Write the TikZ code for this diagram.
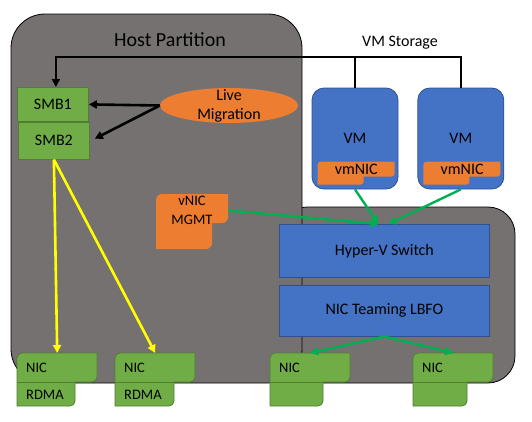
\documentclass[tikz,border=0pt]{standalone}
\usepackage{fontspec}
\setmainfont{Carlito}
\usepackage{xcolor}
\usepackage{tikz}
\usetikzlibrary{arrows.meta,shapes.geometric,positioning,calc}
\definecolor{cinza}{HTML}{767171}
\definecolor{verde}{HTML}{70AD47}
\definecolor{verdeescuro}{HTML}{507E32}
\definecolor{laranja}{HTML}{ED7D31}
\definecolor{azul}{HTML}{4472C4}
\definecolor{azulescuro}{HTML}{2F528F}
\definecolor{verdelinha}{HTML}{00B050}
\definecolor{amarelo}{HTML}{FFFF00}
\tikzset{
  particao/.style={fill=cinza, draw=black, line width=0.8pt, rounded corners=#1},
  texto/.style={font=\fontsize{16pt}{19pt}\selectfont, text=black, inner sep=0pt},
  miudo/.style={font=\fontsize{14.5pt}{19pt}\selectfont, text=black},
  smb/.style={rectangle, fill=verde, draw=verdeescuro, line width=0.8pt, minimum width=71pt, texto},
  maquina/.style={rectangle, rounded corners=12pt, fill=azul, draw=azulescuro, line width=0.8pt,
    minimum width=86pt, minimum height=101pt, texto},
  camada/.style={rectangle, fill=azul, draw=azulescuro, line width=0.8pt, minimum width=210pt, texto},
  migra/.style={ellipse, fill=laranja, minimum width=138pt, minimum height=35pt, inner sep=0pt},
  ficha/.style={fill=verde, draw=verdeescuro, line width=0.8pt},
  etiqueta/.style={fill=laranja},
  fio/.style={draw=black, line width=2.6pt},
  seta/.style={fio, -{Triangle[length=8pt,width=8pt]}},
  setaverde/.style={draw=verdelinha, line width=2.4pt, -{Triangle[length=8pt,width=8pt]}},
  setaamarela/.style={draw=amarelo, line width=2.6pt, -{Triangle[length=8pt,width=8pt]}},
}
\newcommand{\cartao}[7]{\path[#1, shift={#2}] (0,#4) [rounded corners=#7] -- (0,0) [sharp corners] -- (#3,0) [rounded corners=#7] -- (#3,#4)
  [sharp corners] -- (#5,#4) [rounded corners=#7] -- (#5,#4+#6) [sharp corners] -- (0,#4+#6) -- cycle;}
\newcommand{\placa}[5]{%
  \cartao{ficha}{#2}{80}{29}{#3}{24}{5}
  \draw[ficha] ($#2+(0,29)$) -- ++(#3,0);
  \node[miudo, anchor=north west, minimum height=29pt, text width=62pt, inner xsep=9pt, inner ysep=0pt, align=left] (#1) at #2 {#4};
  \node[miudo, anchor=west, inner sep=0pt] (#1b) at ($(#1.south west)+(9,12)$) {#5};}

\begin{document}
\begin{tikzpicture}[x=1pt, y=-1pt]
    \path[use as bounding box] (0,0) rectangle (532,421);
    \draw[particao=27] (280,207) rectangle (515,383);
    \draw[particao=34] (11,14) rectangle (302,383);
    \node[texto, font=\fontsize{20pt}{24pt}\selectfont] (host) at (170,39.5) {Host Partition};
    \node[smb, minimum height=34pt, anchor=north west] (smb1) at (17,87) {SMB1};
    \node[smb, minimum height=37pt, anchor=north west] (smb2) at ([xshift=1pt]smb1.south west) {SMB2};
    \node[migra] (migracao) at (229,105.5) {};
    \node[texto, align=center] (migracaorot) at (migracao) {Live\\Migration};
    \node[maquina] (vm1) at (355,138.5) {VM};
    \node[maquina, right=19pt of vm1] (vm2) {VM};
    \cartao{etiqueta}{($(vm1.north west)+(6,74)$)}{77}{15}{46}{8}{3}
    \cartao{etiqueta}{($(vm2.north west)+(6,74)$)}{77}{15}{46}{8}{3}
    \node[texto, minimum width=77pt, minimum height=15pt, anchor=north west] (vmnic1) at ($(vm1.north west)+(6,74)$) {vmNIC};
    \node[texto, minimum width=77pt, minimum height=15pt, anchor=north west] (vmnic2) at ($(vm2.north west)+(6,74)$) {vmNIC};
    \cartao{etiqueta}{(156,194)}{72}{29}{56}{26}{6}
    \node[miudo, text width=72pt, inner sep=0pt, align=center] (vnic) at (192,210.5) {vNIC\\MGMT};
    \node[camada, minimum height=53pt, anchor=north west] (hyperv) at (279,224) {Hyper-V Switch};
    \node[camada, minimum height=51pt, below=7pt of hyperv] (lbfo) {NIC Teaming LBFO};
    \placa{nic1}{(17,353)}{58}{NIC}{RDMA}
    \placa{nic2}{(115,353)}{59}{NIC}{RDMA}
    \placa{nic3}{(270,353)}{53}{NIC}{}
    \placa{nic4}{(413,353)}{54}{NIC}{}
    \coordinate (armazem) at (400,57);
    \node[texto] (armazemrot) at (400,43) {VM Storage};
    \draw[fio] (vm1.north) -- (vm1.north |- armazem);
    \draw[seta] (vm2.north) -- (vm2.north |- armazem) -| ([xshift=3pt]smb1.north);
    \draw[seta] (migracao.west) -- (smb1.east);
    \draw[seta] (migracao.west) -- ([xshift=5pt,yshift=2pt]smb2.east);
    \draw[setaamarela] (smb2.south) -- (nic1.north);
    \draw[setaamarela] (smb2.south) -- (nic2.north);
    \draw[setaverde] (vnic.east) -- ([xshift=-6pt]hyperv.north);
    \draw[setaverde] (vm1.south) -- ([xshift=-6pt]hyperv.north);
    \draw[setaverde] (vm2.south) -- ([xshift=4pt]hyperv.north);
    \draw[setaverde] (lbfo.south) -- (nic3.north);
    \draw[setaverde] (lbfo.south) -- (nic4.north);
\end{tikzpicture}
\end{document}
